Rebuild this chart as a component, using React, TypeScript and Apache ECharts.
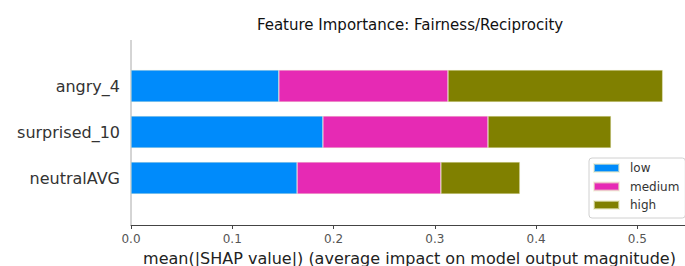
import React, { useEffect, useRef } from "react";
import * as echarts from "echarts";

const categories = ["angry_4", "surprised_10", "neutralAVG"];
const lowValues = [0.146, 0.1895, 0.164];
const mediumValues = [0.167, 0.163, 0.142];
const highValues = [0.212, 0.1215, 0.078];
const xTicks = [0, 0.1, 0.2, 0.3, 0.4, 0.5];

const FONT = "DejaVu Sans";

export default function App() {
  const ref = useRef<HTMLDivElement>(null);
  useEffect(() => {
    if (!ref.current) return;
    const chart = echarts.init(ref.current, null, { renderer: "svg" });
    const mk = (name: string, data: number[], color: string) => ({
      name,
      type: "bar",
      stack: "total",
      data,
      barWidth: 32,
      itemStyle: { color, borderColor: "rgba(235,235,200,0.6)", borderWidth: 0.6 },
    });
    chart.setOption({
      animation: false,
      backgroundColor: "#ffffff",
      textStyle: { fontFamily: FONT },
      title: {
        text: "Feature Importance: Fairness/Reciprocity",
        left: 410,
        top: 17,
        textAlign: "center",
        padding: 0,
        textStyle: { fontFamily: FONT, fontSize: 15, fontWeight: "normal", color: "#111" },
      },
      grid: { left: 131, right: -3, top: 63, bottom: 65, outerBoundsMode: "none", containLabel: false },
      legend: {
        orient: "vertical",
        left: 589,
        top: 158,
        padding: [3, 6, 6, 4],
        itemWidth: 25,
        itemHeight: 8,
        itemGap: 4.5,
        borderColor: "#d0d0d0",
        borderWidth: 1,
        borderRadius: 3,
        backgroundColor: "rgba(255,255,255,0.85)",
        icon: "rect",
        textStyle: { fontFamily: FONT, fontSize: 12, color: "#333", lineHeight: 14, padding: [0, 0, 0, 6] },
        data: ["low", "medium", "high"],
      },
      xAxis: {
        type: "value",
        min: 0,
        max: 0.55,
        interval: 0.1,
        offset: 24,
        name: "mean(|SHAP value|) (average impact on model output magnitude)",
        nameLocation: "middle",
        nameGap: 25,
        nameTextStyle: { fontFamily: FONT, fontSize: 16, color: "#222" },
        axisLine: { show: true, lineStyle: { color: "#444", width: 1 } },
        axisTick: { show: true, length: 4, lineStyle: { color: "#444" } },
        axisLabel: {
          fontFamily: FONT,
          fontSize: 12,
          color: "#555",
          margin: 8,
          showMaxLabel: false,
          formatter: (v: number) => (xTicks.some((t) => Math.abs(t - v) < 1e-9) ? v.toFixed(1) : ""),
        },
        splitLine: { show: false },
      },
      yAxis: {
        type: "category",
        data: categories,
        inverse: true,
        axisLine: { show: false },
        axisTick: { show: false },
        axisLabel: { fontFamily: FONT, fontSize: 16, color: "#333", margin: 11 },
        splitLine: { show: false },
      },
      graphic: [
        {
          type: "line",
          shape: { x1: 131, y1: 40, x2: 131, y2: 225 },
          style: { stroke: "#aaaaaa", lineWidth: 1 },
          silent: true,
        },
      ],
      series: [
        mk("low", lowValues, "#008bfb"),
        mk("medium", mediumValues, "#e62ab4"),
        mk("high", highValues, "#808000"),
      ],
    });
    return () => chart.dispose();
  }, []);
  return (
    <div
      ref={ref}
      style={{ position: "fixed", left: 0, top: 0, width: 685, height: 266, background: "#fff" }}
    />
  );
}
